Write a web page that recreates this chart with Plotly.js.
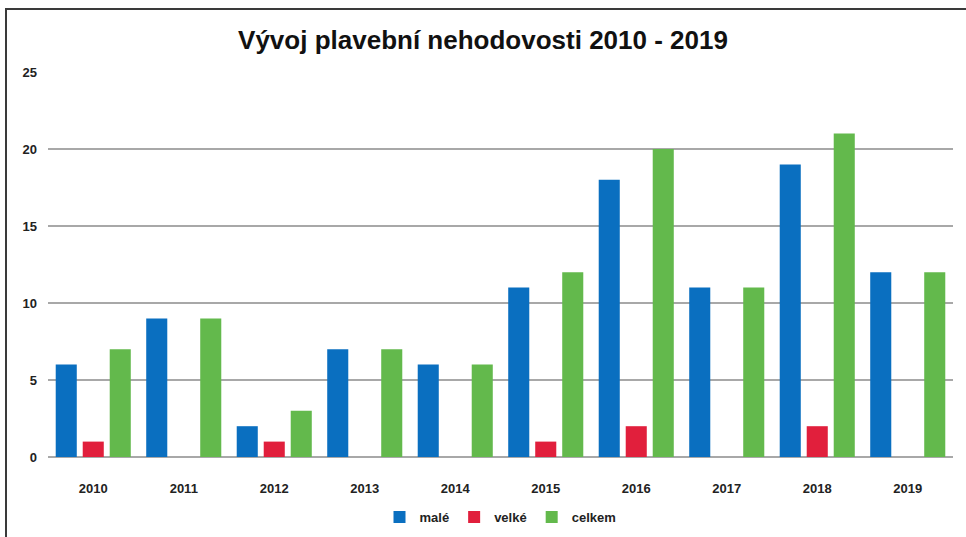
<!DOCTYPE html>
<html>
<head>
<meta charset="utf-8">
<script src="https://cdn.plot.ly/plotly-3.0.1.min.js"></script>
<style>
html,body{margin:0;padding:0;background:#fff;}
#wrap{position:relative;width:966px;height:537px;}
#chart{width:966px;height:537px;}
#frame{position:absolute;left:5px;top:8px;width:970px;height:540px;border-top:2px solid #3a3a3a;border-left:2px solid #3a3a3a;pointer-events:none;}
</style>
</head>
<body>
<div id="wrap"><div id="chart"></div><div id="frame"></div></div>
<script>
const years = ['2010','2011','2012','2013','2014','2015','2016','2017','2018','2019'];
const male = [6, 9, 2, 7, 6, 11, 18, 11, 19, 12];
const velke = [1, 0, 1, 0, 0, 1, 2, 0, 2, 0];
const celkem = [7, 9, 3, 7, 6, 12, 20, 11, 21, 12];
const seriesNames = ['malé', 'velké', 'celkem'];
const yTicks = [0, 5, 10, 15, 20, 25];

const colors = ['#0a6fc0', '#e11f3c', '#63b94c'];
const vals = [male, velke, celkem];

const traces = vals.map((v, i) => ({
  type: 'bar',
  name: seriesNames[i],
  x: years,
  y: v,
  marker: {color: colors[i], line: {width: 0}},
  hoverinfo: 'x+y+name'
}));

const font = 'Liberation Sans Narrow, Liberation Sans, sans-serif';

const layout = {
  width: 966, height: 537,
  margin: {l: 48, r: 13, t: 72, b: 80, autoexpand: false},
  paper_bgcolor: '#fff', plot_bgcolor: '#fff',
  title: {text: '<b>Vývoj plavební nehodovosti 2010 - 2019</b>', x: 0.5, xanchor: 'center', y: 0.925, yanchor: 'middle',
    font: {family: font, size: 26, color: '#111'}},
  barmode: 'group',
  bargap: 0.105,
  bargroupgap: 0.22,
  xaxis: {
    type: 'category', showgrid: false, zeroline: false,
    showline: false, ticks: '',
    tickfont: {family: font, size: 13, color: '#222', weight: 'bold'},
    ticklabelstandoff: 22
  },
  yaxis: {
    range: [0, 25], tickvals: yTicks, ticktext: yTicks.map(String),
    showgrid: true, gridcolor: '#a8a8a8', gridwidth: 2,
    zeroline: true, zerolinecolor: '#a8a8a8', zerolinewidth: 2,
    showline: false, ticks: '',
    tickfont: {family: font, size: 13, color: '#222', weight: 'bold'},
    ticklabelstandoff: 10
  },
  showlegend: true,
  legend: {orientation: 'h', x: 0.5, xanchor: 'center', y: -0.156, yanchor: 'middle',
    font: {family: font, size: 13, color: '#222', weight: 'bold'},
    itemwidth: 30, tracegroupgap: 0}
};

Plotly.newPlot('chart', traces, layout, {displayModeBar: false, staticPlot: true});
</script>
</body>
</html>
